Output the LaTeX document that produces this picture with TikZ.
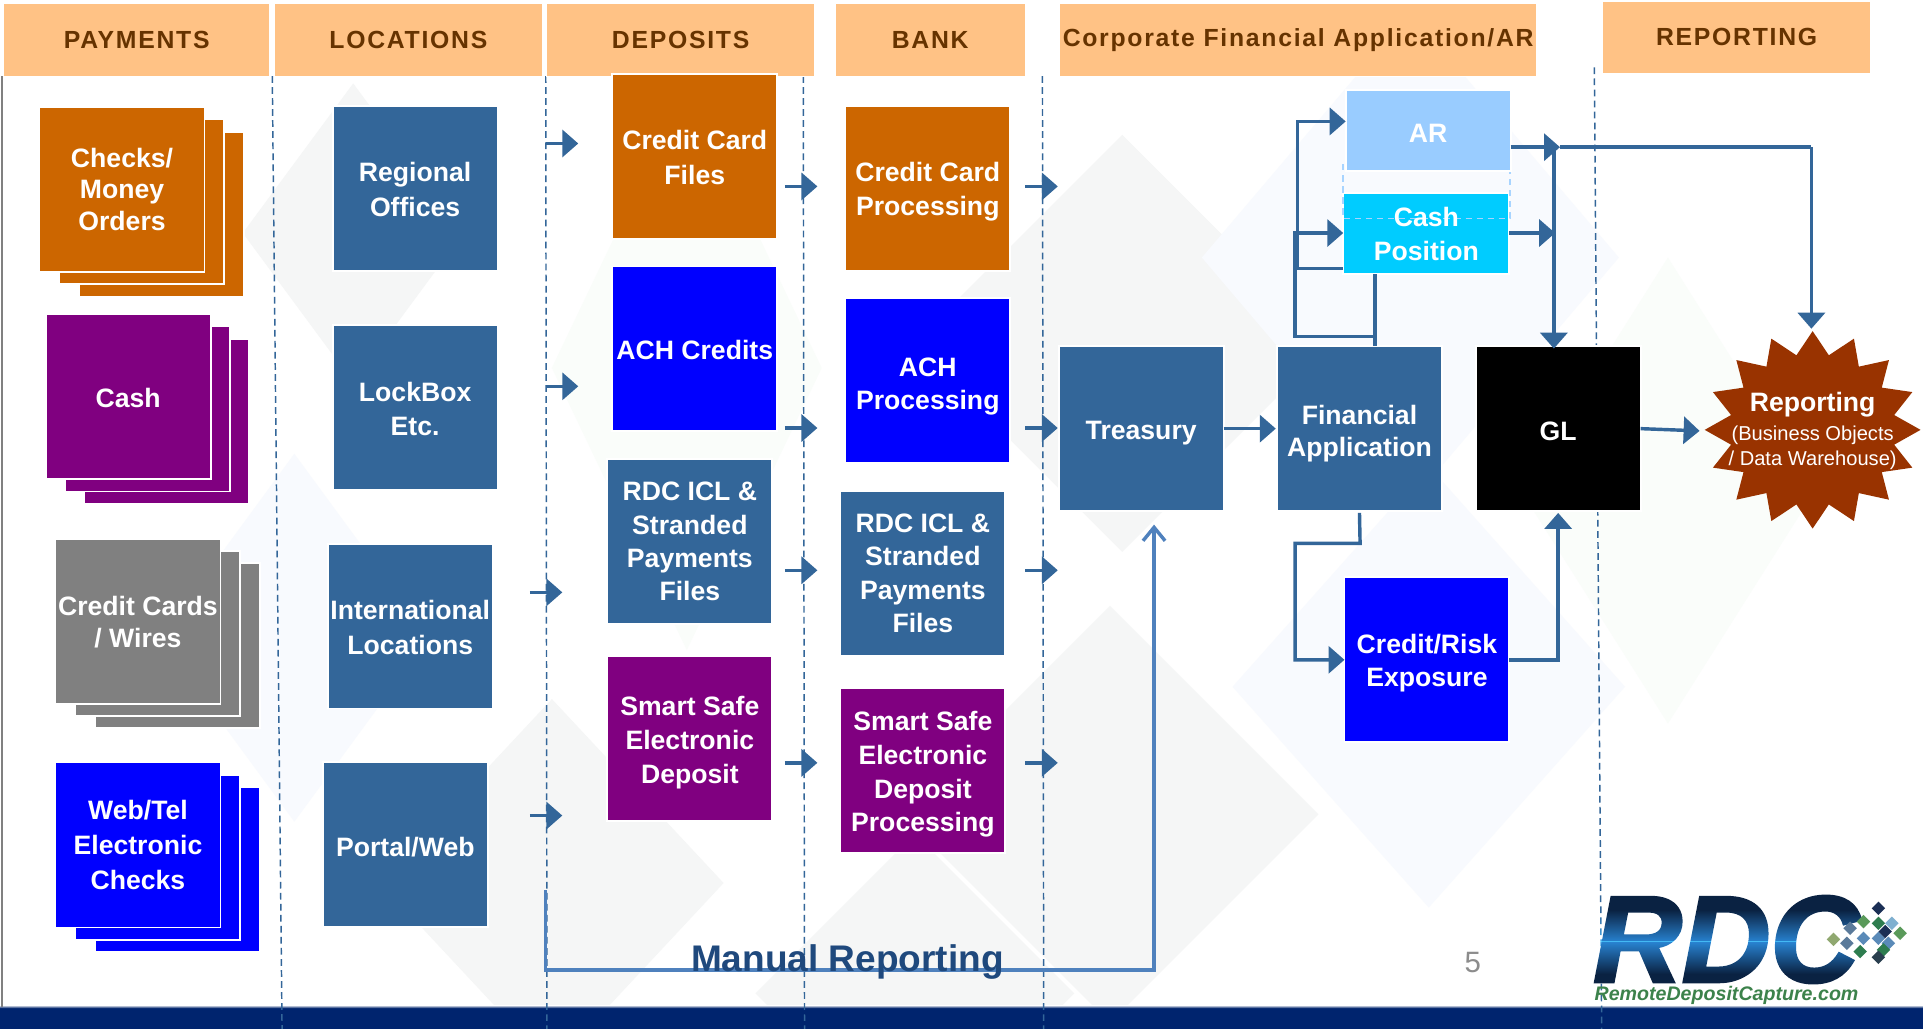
\documentclass[tikz,border=0pt]{standalone}
\usepackage{fontspec}
\setmainfont{Liberation Sans}
\usetikzlibrary{arrows.meta,calc}
\definecolor{hdr}{HTML}{FFC285}
\definecolor{hdrtx}{HTML}{663300}
\definecolor{steel}{HTML}{336699}
\definecolor{orng}{HTML}{CC6600}
\definecolor{purp}{HTML}{800080}
\definecolor{gry}{HTML}{808080}
\definecolor{pure}{HTML}{0000FF}
\definecolor{manual}{HTML}{4F81BD}
\definecolor{manualtx}{HTML}{1F497D}
\definecolor{navyband}{HTML}{00246E}
\definecolor{rust}{HTML}{993300}
\definecolor{wmg}{HTML}{F5F6F6}
\definecolor{wmb}{HTML}{F8FAFE}
\definecolor{wmv}{HTML}{FAFDFA}
\definecolor{cashc}{HTML}{00CCFF}
\definecolor{arc}{HTML}{99CCFF}
\definecolor{dashc}{HTML}{A8D4FF}
\definecolor{pgc}{HTML}{8C8C8C}
\definecolor{rdcc}{HTML}{0A2242}
\definecolor{rdcb}{HTML}{1F6FC0}
\definecolor{rdcg}{HTML}{3C824B}
\definecolor{lgnavy}{HTML}{1B2F55}
\definecolor{lgslate}{HTML}{5A7A9A}
\definecolor{lggreen}{HTML}{5A9A5A}
\definecolor{lgdgreen}{HTML}{2E7D4F}
\definecolor{lglblue}{HTML}{7FB0D0}
\definecolor{lgblue}{HTML}{5A8AB8}
\definecolor{lgolive}{HTML}{90A870}
\definecolor{lgdark}{HTML}{2A3F4F}
\tikzset{
  hdrbox/.style={fill=hdr,draw=white,line width=.8pt,inner sep=0pt,text=hdrtx,
    font=\fontsize{20.2}{24}\selectfont\bfseries\addfontfeatures{LetterSpace=7}},
  bx/.style={draw=white,line width=1.5pt,inner sep=0pt,outer sep=0pt,minimum width=134.5pt,minimum height=134.5pt,
    text=white,align=center},
  lh/.style={font=\fontsize{21.7}{#1}\selectfont\bfseries},
  arr/.style={draw=steel,line width=2.8pt,line join=miter,-{Triangle[length=13pt,width=22pt]}},
  plain/.style={draw=steel,line width=2.8pt,line join=miter},
  sep/.style={draw=steel,line width=1.2pt,dash pattern=on 5.5pt off 3.5pt},
  dia/.style={fill=#1,draw=none},
  lg/.style={fill=#1,draw=none}
}
\newcommand{\tdn}[1]{\rule{0pt}{\dimexpr 15.8pt+#1pt+#1pt\relax}}
\newcommand{\wmdia}[5]{\fill[dia=#5] (#1-#3,#2) -- (#1,#2-#4) -- (#1+#3,#2) -- (#1,#2+#4) -- cycle;}
\newcommand{\lgdia}[3]{\fill[lg=#3] ({1264+#1/3.68-5.5},{717.5+#2/3.68}) -- ({1264+#1/3.68},{717.5+#2/3.68-5.5}) -- ({1264+#1/3.68+5.5},{717.5+#2/3.68}) -- ({1264+#1/3.68},{717.5+#2/3.68+5.5}) -- cycle;}
\begin{document}
\begin{tikzpicture}[x=1pt,y=-1pt]
\useasboundingbox (0,0) rectangle (1568,839);
\fill[white] (0,0) rectangle (1568,839);
% watermark
\wmdia{288}{190}{90}{122}{wmg}
\wmdia{560}{300}{110}{230}{wmv}
\wmdia{240}{520}{110}{150}{wmb}
\wmdia{450}{720}{140}{150}{wmg}
\wmdia{915}{280}{170}{170}{wmg}
\wmdia{905}{664}{170}{170}{wmg}
\wmdia{746}{810}{130}{130}{wmg}
\wmdia{1150}{210}{170}{200}{wmb}
\wmdia{1165}{560}{160}{180}{wmb}
\wmdia{1360}{400}{120}{190}{wmv}
% bottom band
\fill[navyband] (0,822) rectangle (1568,839);
\fill[top color=white,bottom color=navyband] (0,819.5) rectangle (1568,822);
% page edge
\draw[gry,line width=1.2pt] (1.5,62) -- (1.5,821);
% separators
\coordinate (s1a) at (222,62); \coordinate (s1b) at (230,839);
\coordinate (s2a) at (445,62); \coordinate (s2b) at (446,839);
\coordinate (s3a) at (655,62); \coordinate (s3b) at (656,839);
\coordinate (s4a) at (850,62); \coordinate (s4b) at (851,839);
\coordinate (s5a) at (1300,55); \coordinate (s5b) at (1306,839);
\draw[sep] (s1a) -- (s1b);
\draw[sep] (s2a) -- (s2b);
\draw[sep] (s3a) -- (s3b);
\draw[sep] (s4a) -- (s4b);
\draw[sep] (s5a) -- (s5b);
% headers
\node[hdrbox,minimum width=217pt,minimum height=59pt] (h1) at (111.5,32.5) {PAYMENTS};
\node[hdrbox,minimum width=218pt,minimum height=59pt] (h2) at (333,32.5) {LOCATIONS};
\node[hdrbox,minimum width=218pt,minimum height=59pt] (h3) at (555,32.5) {DEPOSITS};
\node[hdrbox,minimum width=155pt,minimum height=59pt] (h4) at (758.5,32.5) {BANK};
\node[hdrbox,minimum width=389pt,minimum height=59pt] (h5) at (1058.5,32.5) {Corporate Financial Application/AR};
\node[hdrbox,minimum width=218pt,minimum height=59pt] (h6) at (1416,30.5) {REPORTING};
% stacks
\node[bx,fill=orng] (c3) at (131.5,175) {};
\node[bx,fill=orng] (c2) at (115.5,164.5) {};
\node[bx,fill=orng,lh=26] (c1) at (99.5,154.5) {Checks/\\Money\\Orders};
\node[bx,fill=purp] (k3) at (136,343.5) {};
\node[bx,fill=purp] (k2) at (120,333.5) {};
\node[bx,fill=purp,lh=26] (k1) at (104.5,323.5) {\tdn{1}Cash};
\node[bx,fill=gry] (r3) at (144.5,526.5) {};
\node[bx,fill=gry] (r2) at (128.5,516.5) {};
\node[bx,fill=gry,lh=26] (r1) at (112.5,506.5) {\tdn{1}Credit Cards\\/ Wires};
\node[bx,fill=pure] (w3) at (144.5,709) {};
\node[bx,fill=pure] (w2) at (128.5,699) {};
\node[bx,fill=pure,lh=28.5] (w1) at (112.5,689) {Web/Tel\\Electronic\\Checks};
% locations
\node[bx,fill=steel,lh=28] (l1) at (338.5,153.5) {\tdn{1}Regional\\Offices};
\node[bx,fill=steel,lh=28] (l2) at (338.5,332.5) {\tdn{1}LockBox\\Etc.};
\node[bx,fill=steel,lh=28] (l3) at (334.5,510.5) {\tdn{1}International\\Locations};
\node[bx,fill=steel,lh=28] (l4) at (330.5,688.5) {\tdn{2}Portal/Web};
% deposits
\node[bx,fill=orng,lh=28] (d1) at (566.5,127.5) {\tdn{1}Credit Card\\Files};
\node[bx,fill=pure,lh=28] (d2) at (566.5,284.5) {\tdn{1}ACH Credits};
\node[bx,fill=steel,lh=27] (d3) at (562.5,441.5) {RDC ICL \&\\Stranded\\Payments\\Files};
\node[bx,fill=purp,lh=27.5] (d4) at (562.5,602.5) {\tdn{3}Smart Safe\\Electronic\\Deposit};
% bank
\node[bx,fill=orng,lh=28] (b1) at (756.5,153.5) {\tdn{3}Credit Card\\Processing};
\node[bx,fill=pure,lh=27] (b2) at (756.5,310.5) {\tdn{4}ACH\\Processing};
\node[bx,fill=steel,lh=27] (b3) at (752.5,467.5) {RDC ICL \&\\Stranded\\Payments\\Files};
\node[bx,fill=purp,lh=27.5] (b4) at (752.5,628.5) {\tdn{3}Smart Safe\\Electronic\\Deposit\\Processing};
% corporate
\node[bx,fill=steel,lh=27] (tre) at (930.5,349.5) {\tdn{3}Treasury};
\node[bx,fill=steel,lh=26] (fin) at (1108.5,349.5) {\tdn{4}Financial\\Application};
\node[bx,fill=black,lh=27] (gl) at (1270.5,349.5) {\tdn{2}GL};
\node[bx,fill=pure,lh=27] (cr) at (1163.5,537.5) {\tdn{3.5}Credit/Risk\\Exposure};
\node[bx,fill=cashc,minimum width=135.5pt,minimum height=66.5pt] (cash) at (1163,190.5) {};
\draw[draw=dashc,line width=1.3pt,dash pattern=on 5pt off 4pt] (1095,134) rectangle (1231,178);
\node[bx,fill=arc,minimum height=66.5pt,lh=27] (ar) at (1164.5,106.5) {\tdn{2}AR};
\node[text=white,align=center,inner sep=0pt,lh=28] (cashtx) at (cash) {\tdn{0.5}Cash\\Position};
% reporting burst
\fill[rust] (1478,270) \foreach \i in {1,...,31} {
  -- ({1478+(mod(\i,2)==0?88:67.8)*sin(\i*11.25)},{350.5-(mod(\i,2)==0?80.5:62)*cos(\i*11.25)})
} -- cycle;
\node[inner sep=0pt,minimum width=176pt,minimum height=161pt,text=white,align=center,font=\fontsize{16.4}{20}\selectfont] (rep) at (1478,351.5)
  {\fontsize{21.7}{22}\selectfont\bfseries Reporting\\[3.5pt]\fontsize{16.4}{20}\selectfont\mdseries (Business Objects\\/ Data Warehouse)};
% short arrows
\foreach \n/\xa/\ya in {1/445/117,2/640/152,3/836/152,4/445/315,5/640/349,6/836/349,7/432/483,8/640/465,9/836/465,10/432/665,11/640/622,12/836/622}{
  \coordinate (p\n) at (\xa,\ya);
  \coordinate (q\n) at ({\xa+26.5},\ya);
  \draw[arr] (p\n) -- (q\n);
}
% main connectors
\draw[arr,shorten >=1pt] (tre.east) -- (fin.west);
\draw[arr,shorten >=4pt] (gl.east) -- (rep.west);
% financial to AR / cash
\coordinate (n1) at (1121,274.5);
\coordinate (n2) at (1056,274.5);
\coordinate (n3) at (1056,190);
\coordinate (n4) at (1058,219);
\coordinate (n5) at (1058,99);
\draw[plain] (n1 |- fin.north) -- (n1 |- cash.south);
\draw[arr] (n1) -- (n2) -- (n3) -- (n3 -| cash.west);
\draw[arr] (n4 -| cash.west) -- (n4) -- (n5) -- (n5 -| ar.west);
% AR / cash to GL and reporting
\coordinate (m1) at (1267,120);
\coordinate (m2) at (1477,120);
\coordinate (m3) at (1268,190);
\coordinate (m4) at (1272,120);
\coordinate (m5) at (1477,268);
\draw[arr,shorten >=-2pt] (m1) -- (m1 |- gl.north);
\draw[arr] (m3 -| cash.east) -- (m3);
\draw[arr] (m1 -| ar.east) -- (m4);
\draw[plain] (m4) -- (m2);
\draw[arr] (m2) -- (m5);
% financial to credit, credit to GL
\coordinate (v1) at (1109,443);
\coordinate (v2) at (1056,443);
\coordinate (v3) at (1056,538);
\draw[arr] (fin.south) ++(0,1.5) -- (v1) -- (v2) -- (v3) -- (cr.west |- v3);
\coordinate (v4) at (1270.5,538);
\draw[arr] (cr.east |- v4) -- (v4) -- ([yshift=-1.5pt]gl.south);
% manual reporting
\coordinate (t1) at (445,726);
\coordinate (t2) at (445,791);
\coordinate (t3) at (941,791);
\draw[draw=manual,line width=2.8pt,line join=miter,-{Straight Barb[length=11pt,width=18pt,line width=2.8pt]}] (t1) -- (t2) -- (t3) -- ([yshift=-11pt]tre.south -| t3);
\node[text=manualtx,font=\fontsize{30.2}{32}\selectfont\bfseries,inner sep=0pt] (mr) at (691,784) {Manual Reporting};
\node[text=pgc,font=\fontsize{24}{26}\selectfont,inner sep=0pt] (pg) at (1201,785) {5};
% logo
\node[text=rdcc,font=\fontsize{100}{100}\selectfont\bfseries\itshape\addfontfeatures{FakeBold=2.5},inner sep=0pt,anchor=base west] (rdc) at (1299,800.5) {RDC};
\begin{scope}[blend mode=screen]
\fill[top color=black,bottom color=rdcb] (1296,742) rectangle (1530,768);
\fill[top color=rdcb,bottom color=black] (1296,768) rectangle (1530,794);
\end{scope}
\node[text=rdcg,font=\fontsize{16}{18}\selectfont\bfseries\itshape,inner sep=0pt,anchor=base west] (rdcurl) at (1300,816) {RemoteDepositCapture.com};
\lgdia{985}{85}{lgnavy}
\lgdia{900}{145}{lgslate}
\lgdia{940}{125}{lggreen}
\lgdia{985}{130}{lgdgreen}
\lgdia{1025}{130}{lglblue}
\lgdia{890}{190}{lgslate}
\lgdia{940}{175}{lgblue}
\lgdia{985}{175}{lgblue}
\lgdia{1005}{155}{lgnavy}
\lgdia{1050}{160}{lggreen}
\lgdia{1015}{190}{lgblue}
\lgdia{930}{215}{lgdgreen}
\lgdia{1000}{210}{lgdgreen}
\lgdia{985}{232}{lgdark}
\lgdia{850}{178}{lgolive}
\end{tikzpicture}
\end{document}
